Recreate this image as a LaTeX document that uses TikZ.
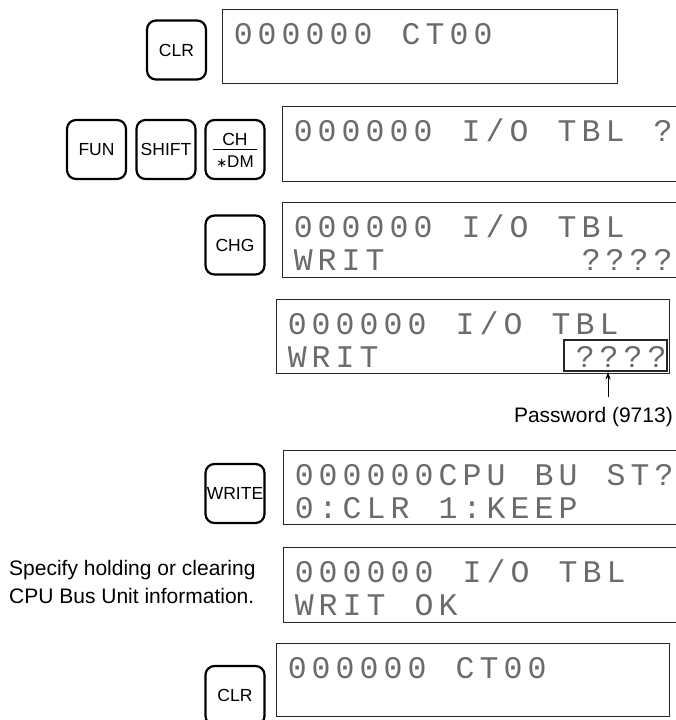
\documentclass[tikz,border=0pt]{standalone}
\usepackage{fontspec}
\setmainfont{Liberation Sans}
\newfontfamily\lcdfont{Liberation Mono}
\newfontfamily\symfont{DejaVu Sans}
\usetikzlibrary{arrows.meta}
\ExplSyntaxOn
\NewDocumentCommand\lcdrow{m}{\str_map_inline:nn {#1}{\str_if_eq:nnTF {##1}{_}{\makebox[24pt]{}}{\makebox[24pt][c]{##1}}}}
\ExplSyntaxOff
\begin{document}
\begin{tikzpicture}[x=1pt,y=-1pt,
  keybox/.style={draw, line width=2.2pt, rounded corners=9pt, minimum width=59pt, minimum height=59pt, inner sep=0pt, font=\fontsize{17.5}{19}\selectfont},
  lcd/.style={draw=black!85, line width=1.1pt, anchor=north west, inner sep=0pt},
  lcdtxt/.style={anchor=base west, inner sep=0pt, text=black!58, font=\lcdfont\fontsize{31.5}{32}\selectfont},
  note/.style={inner sep=0pt, font=\fontsize{21}{25}\selectfont}]
\useasboundingbox (0,0) rectangle (675,720);
% keys
\node[keybox] (clrA) at (176.5,50) {CLR};
\node[keybox] (fun) at (96.5,149.5) {FUN};
\node[keybox] (shift) at (166,149.5) {SHIFT};
\node[keybox] (chdm) at (235,149.5) {};
\node[inner sep=0pt, anchor=base, font=\fontsize{17.5}{19}\selectfont] (chtxt) at (235,145) {CH};
\node[inner sep=0pt, anchor=base, font=\fontsize{17}{19}\selectfont] (dmtxt) at (235,167) {{\symfont\fontsize{13}{13}\selectfont ∗}DM};
\draw[line width=1.7pt] (chdm.center) ++(-22,0) -- ++(44,0);
\node[keybox] (chg) at (235,245) {CHG};
\node[keybox] (write) at (235,493.5) {WRITE};
\node[keybox] (clrB) at (235,695.5) {CLR};
% displays
\node[lcd, minimum width=395pt, minimum height=74pt] (d1) at (222,9) {};
\node[lcd, minimum width=395pt, minimum height=75pt] (d2) at (282,106) {};
\node[lcd, minimum width=395pt, minimum height=75pt] (d3) at (282,202) {};
\node[lcd, minimum width=393pt, minimum height=74pt] (d4) at (276,299) {};
\node[lcd, minimum width=395pt, minimum height=74pt] (d5) at (283,450) {};
\node[lcd, minimum width=395pt, minimum height=75pt] (d6) at (283,547) {};
\node[lcd, minimum width=393pt, minimum height=73pt] (d7) at (276,643) {};
% display texts
\node[lcdtxt] (d1a) at (231,44) {\lcdrow{000000_CT00}};
\node[lcdtxt] (d2a) at (291,141) {\lcdrow{000000_I/O_TBL_?}};
\node[lcdtxt] (d3a) at (291,237) {\lcdrow{000000_I/O_TBL}};
\node[lcdtxt] (d3b) at (291,270) {\lcdrow{WRIT________????}};
\node[lcdtxt] (d4a) at (285,334) {\lcdrow{000000_I/O_TBL}};
\node[lcdtxt] (d4b) at (285,367) {\lcdrow{WRIT________????}};
\node[lcdtxt] (d5a) at (292,485) {\lcdrow{000000CPU_BU_ST?}};
\node[lcdtxt] (d5b) at (292,518) {\lcdrow{0:CLR_1:KEEP}};
\node[lcdtxt] (d6a) at (292,582) {\lcdrow{000000_I/O_TBL}};
\node[lcdtxt] (d6b) at (292,615) {\lcdrow{WRIT_OK}};
\node[lcdtxt] (d7a) at (285,678) {\lcdrow{000000_CT00}};
% password
\node[draw=black!85, line width=1.1pt, minimum width=103pt, minimum height=31pt, inner sep=0pt] (pw) at (615.5,355.5) {};
\node[note, anchor=base east] (pwl) at (673,422) {Password (9713)};
\coordinate (pwtail) at (608,397);
\draw[-{Stealth[length=8pt,width=5pt]}, line width=0.8pt] (pwtail) -- (pwtail |- pw.south);
% note
\node[note, anchor=base west] (spec1) at (9,575) {Specify holding or clearing};
\node[note, anchor=base west] (spec2) at (9,603) {CPU Bus Unit information.};
\end{tikzpicture}
\end{document}
